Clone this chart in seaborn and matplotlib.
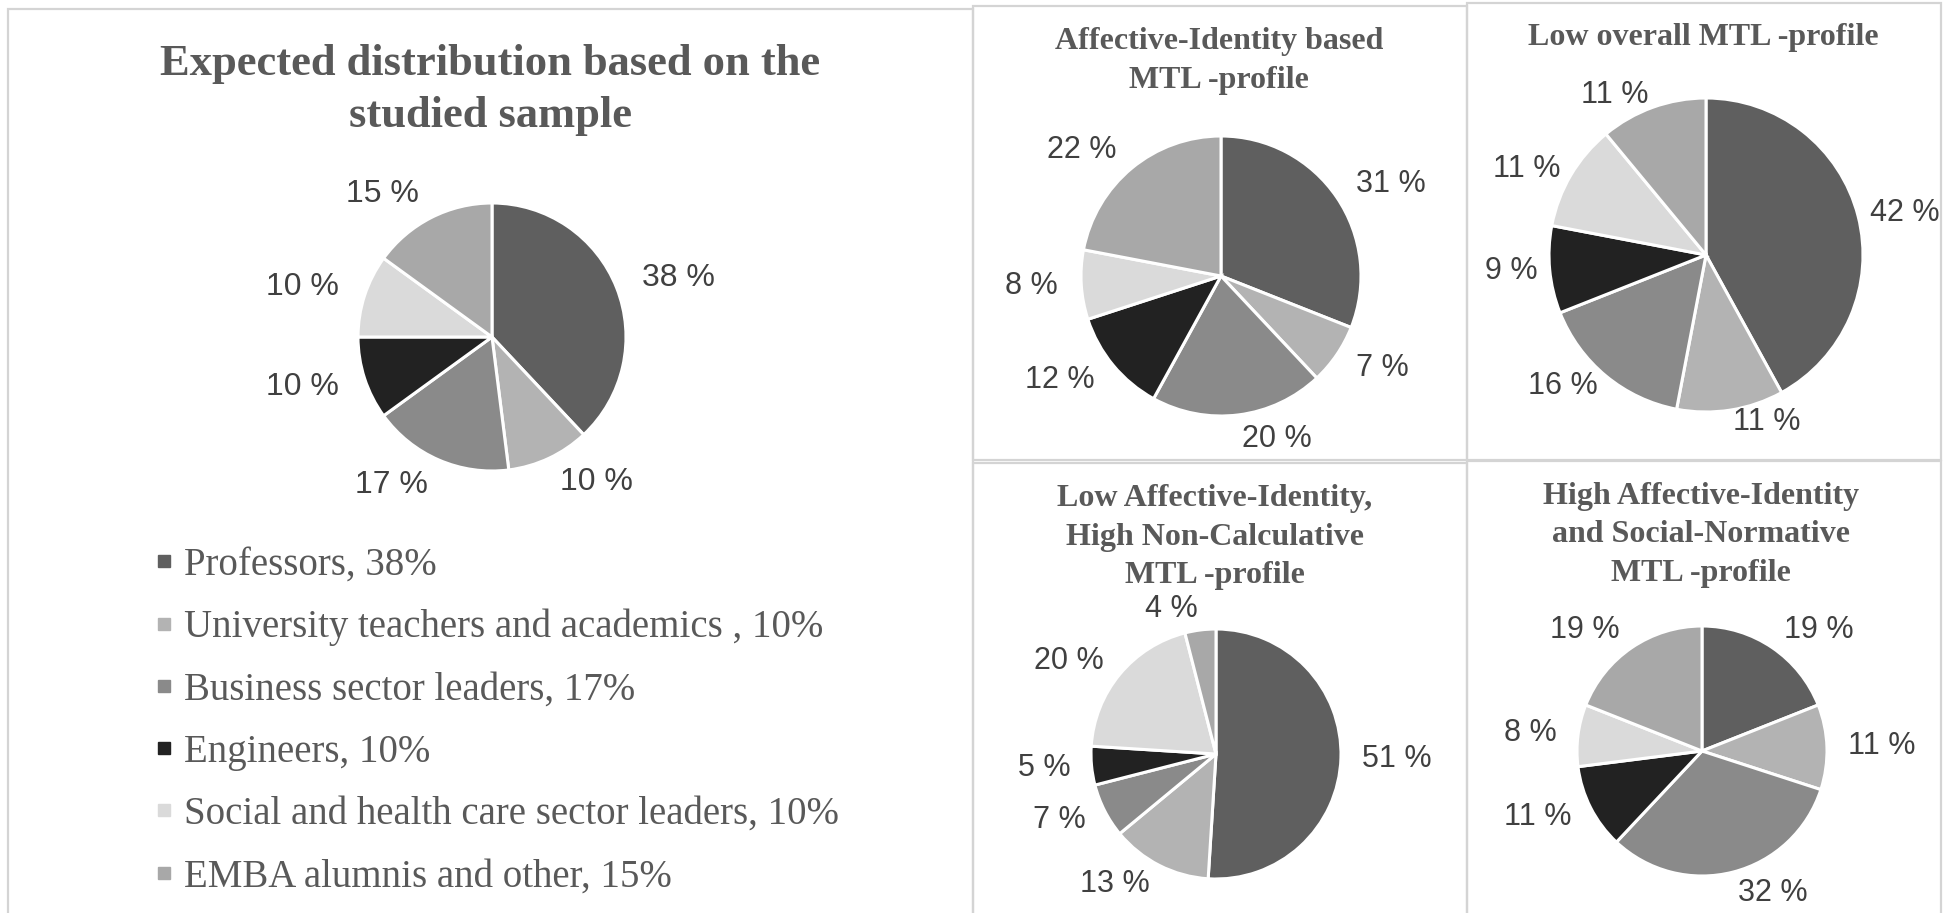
import matplotlib
matplotlib.use("Agg")
import matplotlib.pyplot as plt
from matplotlib.lines import Line2D
from matplotlib.patches import Rectangle
import seaborn as sns

sns.set_theme(style="white")
plt.rcParams['font.family'] = ['Liberation Sans', 'DejaVu Sans']

# ---------------- data ----------------
categories = ["Professors", "University teachers and academics ", "Business sector leaders",
              "Engineers", "Social and health care sector leaders", "EMBA alumnis and other"]
expected = [38, 10, 17, 10, 10, 15]
affective_identity = [31, 7, 20, 12, 8, 22]
low_overall = [42, 11, 16, 9, 11, 11]
low_ai_high_nc = [51, 13, 7, 5, 20, 4]
high_ai_sn = [19, 11, 32, 11, 8, 19]

titles = ["Expected distribution based on the\nstudied sample",
          "Affective-Identity based\nMTL -profile",
          "Low overall MTL -profile",
          "Low Affective-Identity,\nHigh Non-Calculative\nMTL -profile",
          "High Affective-Identity\nand Social-Normative\nMTL -profile"]

colors = ["#5f5f5f", "#b3b3b3", "#8a8a8a", "#222222", "#dadada", "#a8a8a8"]
text_color = "#404040"
title_color = "#595959"
serif = ["Liberation Serif", "DejaVu Serif"]

W, H = 1944, 913
fig = plt.figure(figsize=(W / 100, H / 100), dpi=100)
fig.patch.set_facecolor("white")

# panel borders (pixel coords: x0, y0, x1, y1)
panels = [(8, 9, 973, 915), (973, 6, 1467, 460), (1467, 3, 1941, 460),
          (973, 463, 1467, 915), (1467, 461, 1941, 915)]
for x0, y0, x1, y1 in panels:
    fig.patches.append(Rectangle((x0 / W, 1 - y1 / H), (x1 - x0) / W, (y1 - y0) / H,
                                 transform=fig.transFigure, fill=False,
                                 edgecolor="#d4d4d4", linewidth=1.6))

LIM = 1.6


def pie_axes(cx, cy, r, values, ldist=1.2, fs=22):
    size = 2 * LIM * r
    ax = fig.add_axes([(cx - size / 2) / W, 1 - (cy + size / 2) / H, size / W, size / H])
    wedges, texts = ax.pie(values, colors=colors, startangle=90, counterclock=False,
                           labels=[f"{v} %" for v in values], labeldistance=ldist,
                           wedgeprops=dict(edgecolor="white", linewidth=2.2),
                           textprops=dict(color=text_color, fontsize=fs))
    ax.set_xlim(-LIM, LIM)
    ax.set_ylim(-LIM, LIM)
    ax.set_aspect("equal")
    ax.axis("off")
    return ax, wedges, texts


def title_text(cx, cy, s, fs, ls):
    fig.text(cx / W, 1 - cy / H, s, ha="center", va="center", fontsize=fs,
             fontweight="bold", family=serif, color=title_color, linespacing=ls)


# main pie
pie_axes(492, 337, 134, expected, ldist=1.2, fs=23)
title_text(490, 90, titles[0], 32, 1.39)

# legend
handles = [Line2D([], [], marker="s", linestyle="none", markersize=9,
                  markerfacecolor=c, markeredgecolor=c) for c in colors]
labels = [f"{c}, {v}%" for c, v in zip(categories, expected)]
fig.legend(handles, labels, loc="upper left", bbox_to_anchor=(135 / W, 1 - 527 / H),
           frameon=False, handlelength=0.5, handletextpad=0.25, labelspacing=0.65,
           borderpad=0.0, prop=dict(family=serif, size=28), labelcolor=title_color)

# small pies
pie_axes(1221, 276, 140, affective_identity, ldist=1.17, fs=22)
title_text(1219, 61, titles[1], 23, 1.48)

pie_axes(1706, 255, 157, low_overall, ldist=1.08, fs=22)
title_text(1703, 38, titles[2], 23, 1.3)

pie_axes(1216, 754, 125, low_ai_high_nc, ldist=1.17, fs=22)
title_text(1215, 537, titles[3], 23, 1.44)

pie_axes(1702, 751, 125, high_ai_sn, ldist=1.17, fs=22)
title_text(1701, 535, titles[4], 23, 1.44)

fig.savefig("out.png", dpi=100, facecolor="white")
